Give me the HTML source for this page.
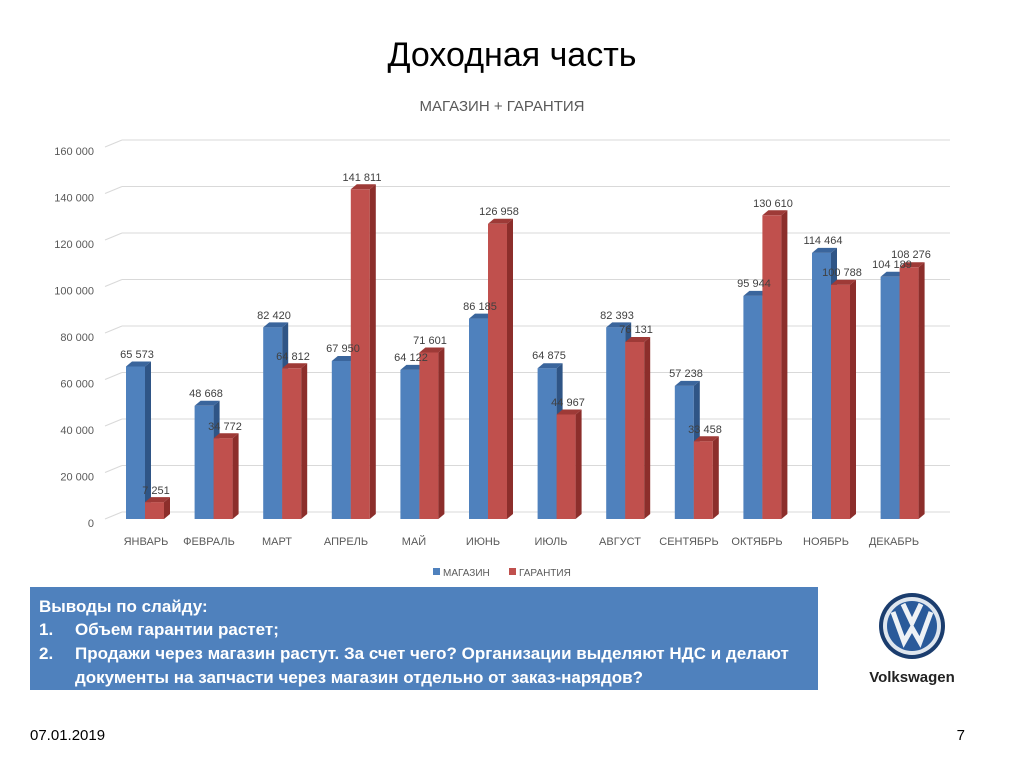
<!DOCTYPE html>
<html><head><meta charset="utf-8"><style>
body{margin:0;background:#fff;}
svg{display:block;font-family:"Liberation Sans","DejaVu Sans",sans-serif;}
.b{fill:#4f81bd}.bs{fill:#2f5586}.bt{fill:#3a659c}
.r{fill:#c0504d}.rs{fill:#8c2e2b}.rt{fill:#9e3a37}
.v{font-size:11px;fill:#404040;text-anchor:middle}
.c{font-size:11px;fill:#595959;text-anchor:middle}
.y{font-size:11px;fill:#595959;text-anchor:end}
.g{stroke:#d9d9d9;stroke-width:1}
</style></head><body>
<svg width="1024" height="767" viewBox="0 0 1024 767">
<text x="512" y="66" font-family="Liberation Sans, DejaVu Sans, sans-serif" font-size="34" text-anchor="middle" fill="#000">Доходная часть</text>
<text x="502" y="111" font-size="15" text-anchor="middle" fill="#595959">МАГАЗИН + ГАРАНТИЯ</text>
<g class="g">
<line x1="122" y1="140" x2="950" y2="140"/><line x1="105" y1="147" x2="122" y2="140"/>
<line x1="122" y1="186.5" x2="950" y2="186.5"/><line x1="105" y1="193.5" x2="122" y2="186.5"/>
<line x1="122" y1="233" x2="950" y2="233"/><line x1="105" y1="240" x2="122" y2="233"/>
<line x1="122" y1="279.5" x2="950" y2="279.5"/><line x1="105" y1="286.5" x2="122" y2="279.5"/>
<line x1="122" y1="326" x2="950" y2="326"/><line x1="105" y1="333" x2="122" y2="326"/>
<line x1="122" y1="372.5" x2="950" y2="372.5"/><line x1="105" y1="379.5" x2="122" y2="372.5"/>
<line x1="122" y1="419" x2="950" y2="419"/><line x1="105" y1="426" x2="122" y2="419"/>
<line x1="122" y1="465.5" x2="950" y2="465.5"/><line x1="105" y1="472.5" x2="122" y2="465.5"/>
<line x1="122" y1="512" x2="950" y2="512"/><line x1="105" y1="519" x2="122" y2="512"/>
</g>
<g>
<text class="y" x="94" y="527">0</text>
<text class="y" x="94" y="480.5">20 000</text>
<text class="y" x="94" y="434">40 000</text>
<text class="y" x="94" y="387.5">60 000</text>
<text class="y" x="94" y="341">80 000</text>
<text class="y" x="94" y="294.5">100 000</text>
<text class="y" x="94" y="248">120 000</text>
<text class="y" x="94" y="201.5">140 000</text>
<text class="y" x="94" y="155">160 000</text>
</g>

<!-- Jan -->
<rect class="b" x="126" y="366.5" width="19" height="152.5"/><polygon class="bs" points="145,366.5 151,361.5 151,514 145,519"/><polygon class="bt" points="126,366.5 132,361.5 151,361.5 145,366.5"/>
<rect class="r" x="145" y="502.1" width="19" height="16.9"/><polygon class="rs" points="164,502.1 170,497.1 170,514 164,519"/><polygon class="rt" points="145,502.1 151,497.1 170,497.1 164,502.1"/>
<!-- Feb -->
<rect class="b" x="194.6" y="405.8" width="19" height="113.2"/><polygon class="bs" points="213.6,405.8 219.6,400.8 219.6,514 213.6,519"/><polygon class="bt" points="194.6,405.8 200.6,400.8 219.6,400.8 213.6,405.8"/>
<rect class="r" x="213.6" y="438.2" width="19" height="80.8"/><polygon class="rs" points="232.6,438.2 238.6,433.2 238.6,514 232.6,519"/><polygon class="rt" points="213.6,438.2 219.6,433.2 238.6,433.2 232.6,438.2"/>
<!-- Mar -->
<rect class="b" x="263.2" y="327.4" width="19" height="191.6"/><polygon class="bs" points="282.2,327.4 288.2,322.4 288.2,514 282.2,519"/><polygon class="bt" points="263.2,327.4 269.2,322.4 288.2,322.4 282.2,327.4"/>
<rect class="r" x="282.2" y="368.3" width="19" height="150.7"/><polygon class="rs" points="301.2,368.3 307.2,363.3 307.2,514 301.2,519"/><polygon class="rt" points="282.2,368.3 288.2,363.3 307.2,363.3 301.2,368.3"/>
<!-- Apr -->
<rect class="b" x="331.8" y="361" width="19" height="158"/><polygon class="bs" points="350.8,361 356.8,356 356.8,514 350.8,519"/><polygon class="bt" points="331.8,361 337.8,356 356.8,356 350.8,361"/>
<rect class="r" x="350.8" y="189.3" width="19" height="329.7"/><polygon class="rs" points="369.8,189.3 375.8,184.3 375.8,514 369.8,519"/><polygon class="rt" points="350.8,189.3 356.8,184.3 375.8,184.3 369.8,189.3"/>
<!-- May -->
<rect class="b" x="400.4" y="369.9" width="19" height="149.1"/><polygon class="bs" points="419.4,369.9 425.4,364.9 425.4,514 419.4,519"/><polygon class="bt" points="400.4,369.9 406.4,364.9 425.4,364.9 419.4,369.9"/>
<rect class="r" x="419.4" y="352.5" width="19" height="166.5"/><polygon class="rs" points="438.4,352.5 444.4,347.5 444.4,514 438.4,519"/><polygon class="rt" points="419.4,352.5 425.4,347.5 444.4,347.5 438.4,352.5"/>
<!-- Jun -->
<rect class="b" x="469" y="318.6" width="19" height="200.4"/><polygon class="bs" points="488,318.6 494,313.6 494,514 488,519"/><polygon class="bt" points="469,318.6 475,313.6 494,313.6 488,318.6"/>
<rect class="r" x="488" y="223.8" width="19" height="295.2"/><polygon class="rs" points="507,223.8 513,218.8 513,514 507,519"/><polygon class="rt" points="488,223.8 494,218.8 513,218.8 507,223.8"/>
<!-- Jul -->
<rect class="b" x="537.6" y="368.2" width="19" height="150.8"/><polygon class="bs" points="556.6,368.2 562.6,363.2 562.6,514 556.6,519"/><polygon class="bt" points="537.6,368.2 543.6,363.2 562.6,363.2 556.6,368.2"/>
<rect class="r" x="556.6" y="414.5" width="19" height="104.5"/><polygon class="rs" points="575.6,414.5 581.6,409.5 581.6,514 575.6,519"/><polygon class="rt" points="556.6,414.5 562.6,409.5 581.6,409.5 575.6,414.5"/>
<!-- Aug -->
<rect class="b" x="606.2" y="327.4" width="19" height="191.6"/><polygon class="bs" points="625.2,327.4 631.2,322.4 631.2,514 625.2,519"/><polygon class="bt" points="606.2,327.4 612.2,322.4 631.2,322.4 625.2,327.4"/>
<rect class="r" x="625.2" y="342" width="19" height="177"/><polygon class="rs" points="644.2,342 650.2,337 650.2,514 644.2,519"/><polygon class="rt" points="625.2,342 631.2,337 650.2,337 644.2,342"/>
<!-- Sep -->
<rect class="b" x="674.8" y="385.9" width="19" height="133.1"/><polygon class="bs" points="693.8,385.9 699.8,380.9 699.8,514 693.8,519"/><polygon class="bt" points="674.8,385.9 680.8,380.9 699.8,380.9 693.8,385.9"/>
<rect class="r" x="693.8" y="441.2" width="19" height="77.8"/><polygon class="rs" points="712.8,441.2 718.8,436.2 718.8,514 712.8,519"/><polygon class="rt" points="693.8,441.2 699.8,436.2 718.8,436.2 712.8,441.2"/>
<!-- Oct -->
<rect class="b" x="743.4" y="295.9" width="19" height="223.1"/><polygon class="bs" points="762.4,295.9 768.4,290.9 768.4,514 762.4,519"/><polygon class="bt" points="743.4,295.9 749.4,290.9 768.4,290.9 762.4,295.9"/>
<rect class="r" x="762.4" y="215.3" width="19" height="303.7"/><polygon class="rs" points="781.4,215.3 787.4,210.3 787.4,514 781.4,519"/><polygon class="rt" points="762.4,215.3 768.4,210.3 787.4,210.3 781.4,215.3"/>
<!-- Nov -->
<rect class="b" x="812" y="252.9" width="19" height="266.1"/><polygon class="bs" points="831,252.9 837,247.9 837,514 831,519"/><polygon class="bt" points="812,252.9 818,247.9 837,247.9 831,252.9"/>
<rect class="r" x="831" y="284.7" width="19" height="234.3"/><polygon class="rs" points="850,284.7 856,279.7 856,514 850,519"/><polygon class="rt" points="831,284.7 837,279.7 856,279.7 850,284.7"/>
<!-- Dec -->
<rect class="b" x="880.6" y="276.8" width="19" height="242.2"/><polygon class="bs" points="899.6,276.8 905.6,271.8 905.6,514 899.6,519"/><polygon class="bt" points="880.6,276.8 886.6,271.8 905.6,271.8 899.6,276.8"/>
<rect class="r" x="899.6" y="267.3" width="19" height="251.7"/><polygon class="rs" points="918.6,267.3 924.6,262.3 924.6,514 918.6,519"/><polygon class="rt" points="899.6,267.3 905.6,262.3 924.6,262.3 918.6,267.3"/>

<g>
<text class="v" x="137" y="358">65 573</text><text class="v" x="156" y="494">7 251</text>
<text class="v" x="206" y="397">48 668</text><text class="v" x="225" y="430">34 772</text>
<text class="v" x="274" y="319">82 420</text><text class="v" x="293" y="360">64 812</text>
<text class="v" x="343" y="352">67 950</text><text class="v" x="362" y="181">141 811</text>
<text class="v" x="411" y="361">64 122</text><text class="v" x="430" y="344">71 601</text>
<text class="v" x="480" y="310">86 185</text><text class="v" x="499" y="215">126 958</text>
<text class="v" x="549" y="359">64 875</text><text class="v" x="568" y="406">44 967</text>
<text class="v" x="617" y="319">82 393</text><text class="v" x="636" y="333">76 131</text>
<text class="v" x="686" y="377">57 238</text><text class="v" x="705" y="433">33 458</text>
<text class="v" x="754" y="287">95 944</text><text class="v" x="773" y="207">130 610</text>
<text class="v" x="823" y="244">114 464</text><text class="v" x="842" y="276">100 788</text>
<text class="v" x="892" y="268">104 189</text><text class="v" x="911" y="258">108 276</text>
</g>
<g>
<text class="c" x="146" y="545">ЯНВАРЬ</text>
<text class="c" x="209" y="545">ФЕВРАЛЬ</text>
<text class="c" x="277" y="545">МАРТ</text>
<text class="c" x="346" y="545">АПРЕЛЬ</text>
<text class="c" x="414" y="545">МАЙ</text>
<text class="c" x="483" y="545">ИЮНЬ</text>
<text class="c" x="551" y="545">ИЮЛЬ</text>
<text class="c" x="620" y="545">АВГУСТ</text>
<text class="c" x="689" y="545">СЕНТЯБРЬ</text>
<text class="c" x="757" y="545">ОКТЯБРЬ</text>
<text class="c" x="826" y="545">НОЯБРЬ</text>
<text class="c" x="894" y="545">ДЕКАБРЬ</text>
</g>
<rect x="433" y="568" width="7" height="7" fill="#4f81bd"/>
<text x="443" y="576" font-size="10" fill="#595959">МАГАЗИН</text>
<rect x="509" y="568" width="7" height="7" fill="#c0504d"/>
<text x="519" y="576" font-size="10" fill="#595959">ГАРАНТИЯ</text>

<rect x="30" y="587" width="788" height="103" fill="#4f81bd"/>
<g font-size="17" font-weight="bold" fill="#fff">
<text x="39" y="612">Выводы по слайду:</text>
<text x="39" y="635">1.</text><text x="75" y="635">Объем гарантии растет;</text>
<text x="39" y="659">2.</text><text x="75" y="659">Продажи через магазин растут. За счет чего? Организации выделяют НДС и делают</text>
<text x="75" y="683">документы на запчасти через магазин отдельно от заказ-нарядов?</text>
</g>

<g transform="translate(912,626)">
<circle r="33" fill="#1b3d6e"/>
<circle r="29" fill="#dfe6ee"/>
<circle r="25" fill="#2a5a9a"/>
<path d="M-19,-14 L-8,16 L0,2 L8,16 L19,-14 M-9,-22 L0,-3 L9,-22" stroke="#eef2f6" stroke-width="5" fill="none" stroke-linejoin="miter"/>
</g>
<text x="912" y="682" font-size="15" font-weight="bold" text-anchor="middle" fill="#222">Volkswagen</text>

<text x="30" y="740" font-size="15" fill="#000">07.01.2019</text>
<text x="965" y="740" font-size="15" text-anchor="end" fill="#000">7</text>
</svg>
</body></html>
